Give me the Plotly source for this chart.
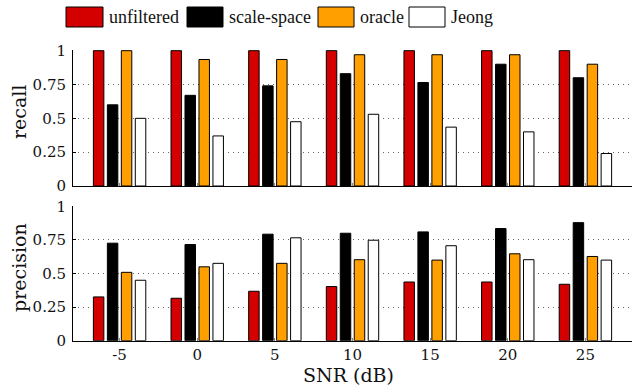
import plotly.graph_objects as go

# ---- data ----
snr = ["-5", "0", "5", "10", "15", "20", "25"]
series_names = ["unfiltered", "scale-space", "oracle", "Jeong"]
series_colors = ["#D40000", "#000000", "#FFA000", "#FFFFFF"]

recall_unfiltered = [1.0, 1.0, 1.0, 1.0, 1.0, 1.0, 1.0]
recall_scale_space = [0.60, 0.67, 0.74, 0.83, 0.765, 0.90, 0.80]
recall_oracle = [1.0, 0.935, 0.935, 0.97, 0.97, 0.97, 0.90]
recall_jeong = [0.50, 0.37, 0.475, 0.53, 0.435, 0.40, 0.24]

precision_unfiltered = [0.326, 0.316, 0.368, 0.403, 0.437, 0.437, 0.42]
precision_scale_space = [0.726, 0.716, 0.793, 0.80, 0.81, 0.835, 0.879]
precision_oracle = [0.509, 0.55, 0.576, 0.603, 0.60, 0.647, 0.627]
precision_jeong = [0.45, 0.576, 0.766, 0.748, 0.707, 0.603, 0.60]

y_tickvals = [0, 0.25, 0.5, 0.75, 1]
y_ticktext = ["0", "0.25", "0.5", "0.75", "1"]

recall = [recall_unfiltered, recall_scale_space, recall_oracle, recall_jeong]
precision = [precision_unfiltered, precision_scale_space, precision_oracle, precision_jeong]

SERIF = "DejaVu Serif, Liberation Serif, serif"
TICK_FONT = dict(family=SERIF, size=15, color="#111")
TITLE_FONT = dict(family=SERIF, size=19, color="#111")
LEG_FONT = dict(family="Liberation Serif, DejaVu Serif, serif", size=18, color="#111")

fig = go.Figure()
for name, color, vals in zip(series_names, series_colors, recall):
    fig.add_trace(go.Bar(x=snr, y=vals, name=name, marker=dict(color=color, line=dict(color="#000", width=1)),
                         xaxis="x", yaxis="y", showlegend=False, offsetgroup=name))
for name, color, vals in zip(series_names, series_colors, precision):
    fig.add_trace(go.Bar(x=snr, y=vals, name=name, marker=dict(color=color, line=dict(color="#000", width=1)),
                         xaxis="x2", yaxis="y2", showlegend=False, offsetgroup=name))

W, H = 632, 392
def py(pix):
    return 1 - pix / H
def px(pix):
    return pix / W

xdom = [px(73), 1.0]
common_x = dict(domain=xdom, type="category", range=[-0.6, 6.6], showline=True, linecolor="#000", linewidth=1,
                ticks="inside", ticklen=3, tickcolor="#888", showgrid=False, zeroline=False, tickfont=TICK_FONT,
                automargin=False)
common_y = dict(range=[0, 1.005], tickvals=y_tickvals, ticktext=y_ticktext, showline=True, linecolor="#000",
                linewidth=1, ticks="inside", ticklen=3, tickcolor="#000", showgrid=True, gridcolor="#666",
                griddash="1px,4px", gridwidth=1, zeroline=False, tickfont=TICK_FONT, ticklabelstandoff=3,
                automargin=False)

shapes = []
annotations = []
boxes = [(66, 103), (187, 223), (318, 354), (409, 445)]
text_x = [107, 227, 358, 449]
for (x0, x1), tx, name, color in zip(boxes, text_x, series_names, series_colors):
    shapes.append(dict(type="rect", xref="paper", yref="paper", x0=px(x0), x1=px(x1), y0=py(27), y1=py(7),
                       fillcolor=color, line=dict(color="#000", width=1)))
    annotations.append(dict(xref="paper", yref="paper", x=px(tx), y=py(17), text=name, showarrow=False,
                            xanchor="left", yanchor="middle", font=LEG_FONT))

annotations.append(dict(xref="paper", yref="paper", x=px(19), y=py(112), text="recall", textangle=-90,
                        showarrow=False, xanchor="center", yanchor="middle", font=TITLE_FONT))
annotations.append(dict(xref="paper", yref="paper", x=px(19), y=py(268), text="precision", textangle=-90,
                        showarrow=False, xanchor="center", yanchor="middle", font=TITLE_FONT))
annotations.append(dict(xref="paper", yref="paper", x=px(349), y=py(375), text="SNR (dB)",
                        showarrow=False, xanchor="center", yanchor="middle", font=TITLE_FONT))

fig.update_layout(
    template="none",
    width=W, height=H,
    margin=dict(l=0, r=0, t=0, b=0, pad=0, autoexpand=False),
    font=dict(family=SERIF, color="#111"),
    paper_bgcolor="white", plot_bgcolor="white",
    barmode="group", bargap=0.28, bargroupgap=0.25,
    xaxis=dict(common_x, anchor="y", showticklabels=False),
    yaxis=dict(common_y, domain=[py(186), py(50)], anchor="x"),
    xaxis2=dict(common_x, anchor="y2"),
    yaxis2=dict(common_y, domain=[py(340.7), py(205.7)], anchor="x2"),
    shapes=shapes, annotations=annotations,
    showlegend=False,
)

fig.write_html("out.html", config={"displayModeBar": False},
               post_script="document.body.style.margin='0';document.body.style.overflow='hidden';")
